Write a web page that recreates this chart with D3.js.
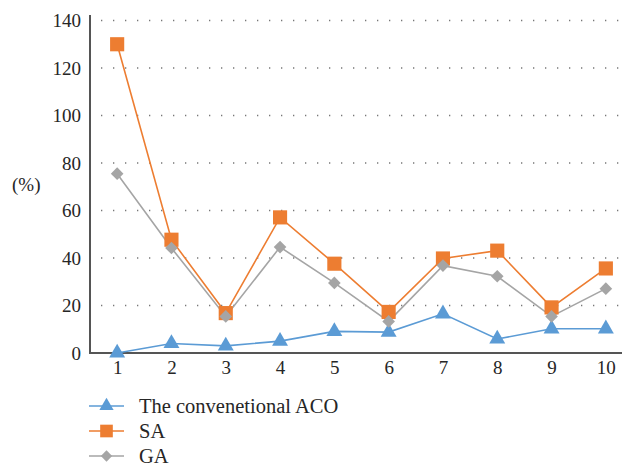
<!DOCTYPE html>
<html>
<head>
<meta charset="utf-8">
<script src="https://cdn.jsdelivr.net/npm/d3@7"></script>
<style>
  html, body { margin: 0; padding: 0; background: #fff; }
  svg { display: block; }
</style>
</head>
<body>
<svg id="chart" width="622" height="468"></svg>
<script>
// Runs 1..10 and percentage results for each algorithm
const categories = ["1", "2", "3", "4", "5", "6", "7", "8", "9", "10"];
const acoValues = [0, 4, 3, 5, 9.1, 8.8, 16.5, 5.9, 10.2, 10.2];
const saValues  = [130, 47.7, 16.8, 57.1, 37.6, 17.3, 39.8, 43.1, 19.2, 35.6];
const gaValues  = [75.5, 44.2, 15.4, 44.6, 29.5, 13.3, 36.8, 32.3, 15.4, 27.1];
const yTicks = [0, 20, 40, 60, 80, 100, 120, 140];
const seriesNames = ["The convenetional ACO", "SA", "GA"];

const FONT = "'Liberation Serif', 'DejaVu Serif', serif";
const TEXT_COLOR = "#262626";

// a diamond drawn as a square turned 45 degrees
const diamond = {
  draw(ctx, size) {
    const r = Math.sqrt(size / 2);
    ctx.moveTo(0, -r); ctx.lineTo(r, 0); ctx.lineTo(0, r); ctx.lineTo(-r, 0); ctx.closePath();
  }
};

const series = [
  { name: seriesNames[0], values: acoValues, color: "#5b9bd5", shape: d3.symbolTriangle, size: 110 },
  { name: seriesNames[1], values: saValues,  color: "#ed7d31", shape: d3.symbolSquare,   size: 200 },
  { name: seriesNames[2], values: gaValues,  color: "#a5a5a5", shape: diamond,           size: 80 }
];

const svg = d3.select("#chart");
const plotLeft = 90, plotRight = 633, plotTop = 15, plotBottom = 353;

const x = d3.scalePoint().domain(categories).range([plotLeft, plotRight]).padding(0.5);
const y = d3.scaleLinear().domain([0, 140]).range([plotBottom, plotBottom - 332.5]);

// dotted horizontal gridlines
svg.append("g")
  .selectAll("line")
  .data(yTicks.filter(t => t > 0))
  .join("line")
  .attr("x1", plotLeft + 11).attr("x2", 622)
  .attr("y1", d => y(d)).attr("y2", d => y(d))
  .attr("stroke", "#777")
  .attr("stroke-width", 1.3)
  .attr("stroke-dasharray", "1.3,10.7");

// y axis
const yAxis = svg.append("g")
  .attr("transform", `translate(${plotLeft},0)`)
  .call(d3.axisLeft(y).tickValues(yTicks).tickSize(0).tickPadding(9));
yAxis.select(".domain").remove();
yAxis.attr("font-family", FONT).attr("font-size", 19);
yAxis.selectAll("text").attr("fill", TEXT_COLOR).attr("dy", "0.32em");
svg.append("line")
  .attr("x1", plotLeft).attr("x2", plotLeft)
  .attr("y1", plotTop).attr("y2", plotBottom)
  .attr("stroke", "#555").attr("stroke-width", 2);

// x axis
const xAxis = svg.append("g")
  .attr("transform", `translate(0,${plotBottom})`)
  .call(d3.axisBottom(x).tickSize(0).tickPadding(8));
xAxis.select(".domain").remove();
xAxis.attr("font-family", FONT).attr("font-size", 19);
xAxis.selectAll("text").attr("fill", TEXT_COLOR);
svg.append("line")
  .attr("x1", plotLeft - 1).attr("x2", 622)
  .attr("y1", plotBottom).attr("y2", plotBottom)
  .attr("stroke", "#555").attr("stroke-width", 2);

// unit label
svg.append("text")
  .attr("x", 12).attr("y", 185)
  .attr("dy", "0.32em")
  .attr("font-family", FONT).attr("font-size", 19)
  .attr("fill", TEXT_COLOR)
  .text("(%)");

const line = d3.line()
  .x((d, i) => x(categories[i]))
  .y(d => y(d));

// series lines, then markers on top
series.forEach(s => {
  svg.append("path")
    .datum(s.values)
    .attr("d", line)
    .attr("fill", "none")
    .attr("stroke", s.color)
    .attr("stroke-width", 1.6);
});
series.forEach(s => {
  svg.append("g")
    .selectAll("path")
    .data(s.values)
    .join("path")
    .attr("transform", (d, i) => `translate(${x(categories[i])},${y(d)})`)
    .attr("d", d3.symbol().type(s.shape).size(s.size))
    .attr("fill", s.color);
});

// legend
const legend = svg.append("g");
series.forEach((s, i) => {
  const ly = 406 + i * 25;
  legend.append("line")
    .attr("x1", 89).attr("x2", 124)
    .attr("y1", ly).attr("y2", ly)
    .attr("stroke", s.color).attr("stroke-width", 1.6);
  legend.append("path")
    .attr("transform", `translate(106.5,${ly})`)
    .attr("d", d3.symbol().type(s.shape).size(s.size * 0.8))
    .attr("fill", s.color);
  legend.append("text")
    .attr("x", 139).attr("y", ly)
    .attr("dy", "0.33em")
    .attr("font-family", FONT).attr("font-size", 20.5)
    .attr("fill", TEXT_COLOR)
    .text(s.name);
});
</script>
</body>
</html>
